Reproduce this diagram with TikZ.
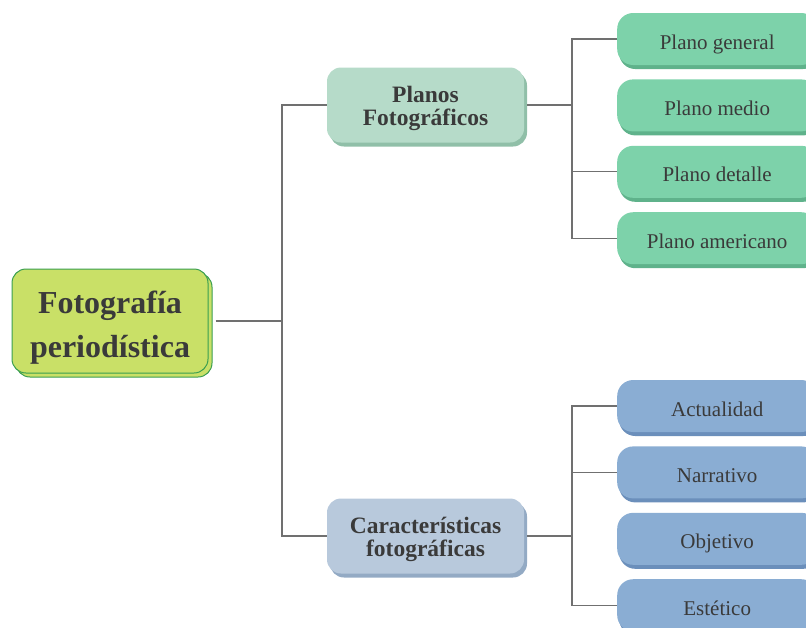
\documentclass[tikz,border=0pt]{standalone}
\usepackage{fontspec}
\setmainfont{Liberation Serif}
\usetikzlibrary{positioning,shadows}

\definecolor{texto}{HTML}{3A3A3A}
\definecolor{lima}{HTML}{C9E067}
\definecolor{limaborde}{HTML}{3A9E50}
\definecolor{verdeclaro}{HTML}{B6DBC9}
\definecolor{verdesombra}{HTML}{90BFA8}
\definecolor{azulclaro}{HTML}{B8C9DC}
\definecolor{azulsombra}{HTML}{93AAC4}
\definecolor{verdehoja}{HTML}{7DD2AA}
\definecolor{verdehojasombra}{HTML}{5FB28B}
\definecolor{azulhoja}{HTML}{8AADD3}
\definecolor{azulhojasombra}{HTML}{6B8FBB}
\definecolor{linea}{HTML}{707070}

\begin{document}
\begin{tikzpicture}[x=1pt,y=-1pt,node distance=14pt,
	raiz/.style={draw=limaborde,line width=1pt,fill=lima,rounded corners=14pt,
		minimum width=196pt,minimum height=104pt,align=center,text=texto,
		text height=72pt,text depth=0pt,
		font=\fontsize{32}{44}\selectfont\bfseries,
		general shadow={shadow xshift=4pt,shadow yshift=-4pt,fill=lima,draw=limaborde,line width=1pt}},
	rama/.style={fill=#1,rounded corners=14pt,minimum width=197pt,minimum height=75pt,
		align=center,text=texto,text height=40pt,text depth=0pt,
		font=\fontsize{23.5}{23}\selectfont\bfseries},
	hoja/.style={fill=#1,rounded corners=16pt,minimum width=200pt,minimum height=52pt,
		anchor=west,text=texto,text height=20pt,text depth=0pt,
		font=\fontsize{21}{25}\selectfont},
	conector/.style={draw=linea,line width=1.2pt}]
	\useasboundingbox (0,0) rectangle (806,627);

	\node[raiz] (root) at (110,321) {Fotografía\\periodística};

	\node[rama=verdeclaro,general shadow={shadow xshift=3pt,shadow yshift=-4pt,fill=verdesombra}] (planos) at (425.5,105) {Planos\\Fotográficos};
	\node[rama=azulclaro,general shadow={shadow xshift=3pt,shadow yshift=-4pt,fill=azulsombra}] (caract) at (425.5,536) {Características\\fotográficas};

	% planos
	\node[hoja=verdehoja,general shadow={shadow xshift=2pt,shadow yshift=-4pt,fill=verdehojasombra}] (pg) at (617,39) {Plano general};
	\node[hoja=verdehoja,general shadow={shadow xshift=2pt,shadow yshift=-4pt,fill=verdehojasombra},below=of pg.south west,anchor=north west] (pm) {Plano medio};
	\node[hoja=verdehoja,general shadow={shadow xshift=2pt,shadow yshift=-4pt,fill=verdehojasombra},below=of pm.south west,anchor=north west] (pd) {Plano detalle};
	\node[hoja=verdehoja,general shadow={shadow xshift=2pt,shadow yshift=-4pt,fill=verdehojasombra},below=of pd.south west,anchor=north west] (pa) {Plano americano};

	% caracteristicas
	\node[hoja=azulhoja,general shadow={shadow xshift=2pt,shadow yshift=-4pt,fill=azulhojasombra}] (act) at (617,406) {Actualidad};
	\node[hoja=azulhoja,general shadow={shadow xshift=2pt,shadow yshift=-4pt,fill=azulhojasombra},below=of act.south west,anchor=north west] (nar) {Narrativo};
	\node[hoja=azulhoja,general shadow={shadow xshift=2pt,shadow yshift=-4pt,fill=azulhojasombra},below=of nar.south west,anchor=north west] (obj) {Objetivo};
	\node[hoja=azulhoja,general shadow={shadow xshift=2pt,shadow yshift=-4pt,fill=azulhojasombra},below=of obj.south west,anchor=north west] (est) {Estético};

	\coordinate (b1) at (282,321);
	\coordinate (b2) at (572,105);
	\coordinate (b3) at (572,536);

	\draw[conector] ([xshift=7pt]root.east) -- (b1);
	\draw[conector] (planos.west) -| (b1) |- (caract.west);
	\draw[conector] ([xshift=3pt]planos.east) -- (b2);
	\draw[conector] (pg.west) -| (b2) |- (pa.west);
	\draw[conector] (b2 |- pd.west) -- (pd.west);
	\draw[conector] ([xshift=3pt]caract.east) -- (b3);
	\draw[conector] (act.west) -| (b3) |- (est.west);
	\draw[conector] (b3 |- nar.west) -- (nar.west);
\end{tikzpicture}
\end{document}
